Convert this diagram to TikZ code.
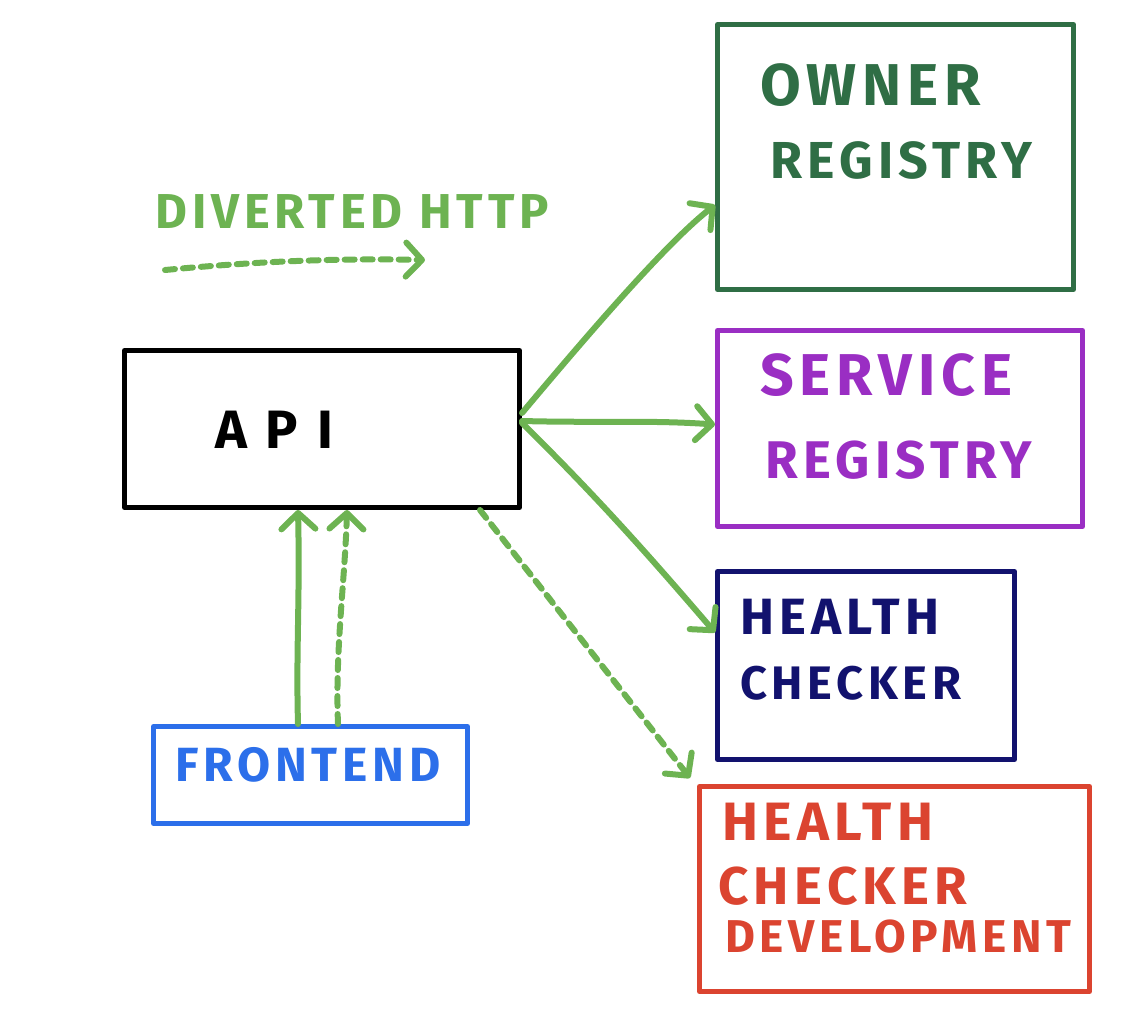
\documentclass[tikz,border=0pt]{standalone}
\usepackage{fontspec}
\newfontfamily\handfont[LetterSpace=10]{Fira Sans}
\usetikzlibrary{arrows.meta}
\definecolor{arrowgreen}{HTML}{6DB352}
\definecolor{ownergreen}{HTML}{2F6E45}
\definecolor{svcpurple}{HTML}{9A2EC3}
\definecolor{hcnavy}{HTML}{12126E}
\definecolor{devred}{HTML}{DB4430}
\definecolor{feblue}{HTML}{2C6FEA}
\newcommand{\hsz}[1]{\handfont\bfseries\fontsize{#1}{#1}\selectfont}
\tikzset{
  box/.style={draw, line width=5pt, minimum width=#1, anchor=north west, inner sep=0pt, line join=round},
  lbl/.style={anchor=west, inner sep=0pt},
  flow/.style={draw=arrowgreen, line width=6pt, line cap=round, line join=round,
    -{Straight Barb[length=16pt,width=34pt,line width=6pt,round]}},
  dflow/.style={flow, dash pattern=on 10pt off 8pt}
}
\begin{document}
\begin{tikzpicture}[x=1pt,y=-1pt]
\useasboundingbox (0,0) rectangle (1148,1020);
% boxes
\node[box=356pt, minimum height=265pt, draw=ownergreen] (owner) at (715,22) {};
\node[box=365pt, minimum height=196pt, draw=svcpurple] (svc) at (715,328) {};
\node[box=297pt, minimum height=188pt, draw=hcnavy] (hc) at (715,569) {};
\node[box=390pt, minimum height=205pt, draw=devred] (dev) at (697,784) {};
\node[box=395pt, minimum height=157pt, draw=black] (api) at (122,348) {};
\node[box=314pt, minimum height=97pt, draw=feblue] (fe) at (151,724) {};
% labels
\node[lbl, text=ownergreen, font=\hsz{59}] (t1) at (760,85) {OWNER};
\node[lbl, text=ownergreen, font=\hsz{52}] (t2) at (770,160) {REGISTRY};
\node[lbl, text=svcpurple, font=\hsz{59}] (t3) at (760,375) {SERVICE};
\node[lbl, text=svcpurple, font=\hsz{53}] (t4) at (765,460) {REGISTRY};
\node[lbl, text=hcnavy, font=\hsz{51}] (t5) at (740,617) {HEALTH};
\node[lbl, text=hcnavy, font=\hsz{47}] (t6) at (740,683) {CHECKER};
\node[lbl, text=devred, font=\hsz{54}] (t7) at (722,822) {HEALTH};
\node[lbl, text=devred, font=\hsz{53}] (t8) at (718,886) {CHECKER};
\node[lbl, text=devred, font=\hsz{46}] (t9) at (725,937) {DEVELOPMENT};
\node[lbl, text=black, font={\hsz{54}\addfontfeature{LetterSpace=35}}] (t10) at (215,430) {API};
\node[lbl, text=feblue, font=\hsz{48}] (t11) at (175,765) {FRONTEND};
\node[lbl, text=arrowgreen, font=\hsz{49}] (legend) at (155,212) {DIVERTED HTTP};
% legend arrow
\coordinate (ls) at (165,270);
\coordinate (le) at (425,260);
\draw[dflow] (ls) .. controls (250,262) and (330,258) .. (le);
% connectors
\draw[flow] ([yshift=16pt]api.east) .. controls (600,320) and (670,240) .. ([yshift=-48pt]owner.west);
\draw[flow] ([yshift=8pt]api.east) .. controls (600,423) and (650,420) .. ([yshift=4pt]svc.west);
\draw[flow] ([yshift=6pt]api.east) .. controls (590,490) and (640,545) .. ([yshift=33pt]hc.west);
\draw[dflow] ([xshift=358pt]api.south west) -- ([xshift=-7pt,yshift=6pt]dev.north west);
\draw[flow] ([xshift=147pt]fe.north west) .. controls (296,650) and (300,600) .. ([xshift=176pt]api.south west);
\draw[dflow] ([xshift=187pt]fe.north west) .. controls (335,650) and (345,580) .. ([xshift=225pt]api.south west);
\end{tikzpicture}
\end{document}
